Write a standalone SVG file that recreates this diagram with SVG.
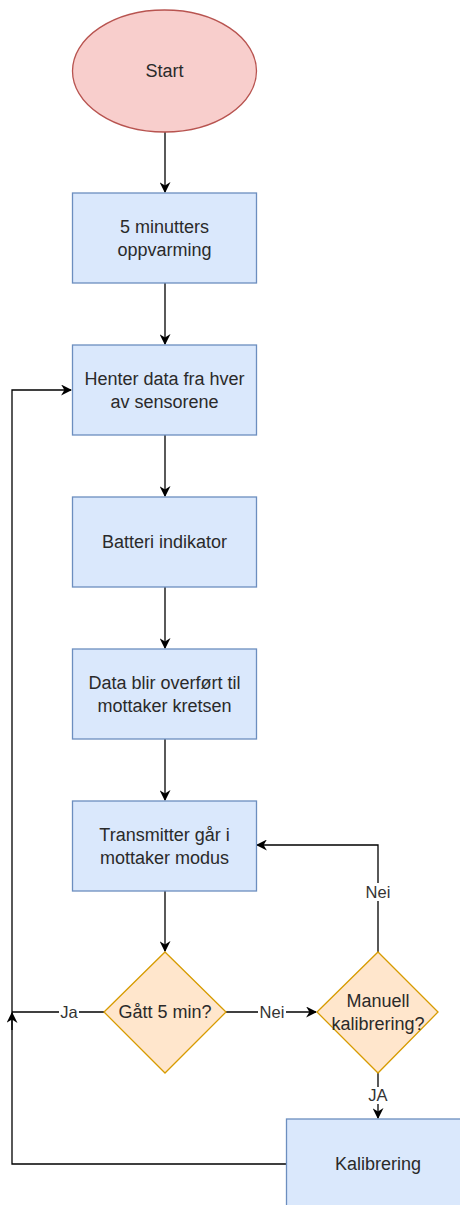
<svg xmlns="http://www.w3.org/2000/svg" width="460" height="1205" viewBox="0 0 460 1205">
<defs>
<style>
.box{fill:#dae8fc;stroke:#6c8ebf;stroke-width:1.3}
.dia{fill:#ffe6cc;stroke:#d79b00;stroke-width:1.3}
.t{font-family:"Liberation Sans",Arial,sans-serif;font-size:18px;fill:#2a2a2a;text-anchor:middle;dominant-baseline:central}
.lbl{font-family:"Liberation Sans",Arial,sans-serif;font-size:16.5px;fill:#333;text-anchor:middle;dominant-baseline:central}
.e{fill:none;stroke:#000;stroke-width:1.3}
</style>
<marker id="ah" viewBox="0 0 10 10" refX="9" refY="5" markerWidth="11" markerHeight="11" markerUnits="userSpaceOnUse" orient="auto">
<path d="M0,0 L10,5 L0,10 L3,5 Z" fill="#000"/>
</marker>
</defs>
<g id="connectors">
<path class="e" d="M165,132 V192" marker-end="url(#ah)"/>
<path class="e" d="M165,283 V344" marker-end="url(#ah)"/>
<path class="e" d="M165,435 V496" marker-end="url(#ah)"/>
<path class="e" d="M165,587 V648" marker-end="url(#ah)"/>
<path class="e" d="M165,739 V800" marker-end="url(#ah)"/>
<path class="e" d="M165,891 V951" marker-end="url(#ah)"/>
<path class="e" d="M226,1012 H316" marker-end="url(#ah)"/>
<rect x="258" y="1003" width="28" height="18" fill="#fff"/>
<text class="lbl" x="272" y="1012">Nei</text>
<path class="e" d="M104,1012 H12" />
<path class="e" d="M12,1030 V1013" marker-end="url(#ah)"/>
<rect x="59" y="1003" width="20" height="18" fill="#fff"/>
<text class="lbl" x="69" y="1012">Ja</text>
<path class="e" d="M378,952 V845 H257" marker-end="url(#ah)"/>
<rect x="364" y="883" width="28" height="18" fill="#fff"/>
<text class="lbl" x="378" y="892">Nei</text>
<path class="e" d="M378,1073 V1118" marker-end="url(#ah)"/>
<rect x="366" y="1087" width="24" height="17" fill="#fff"/>
<text class="lbl" x="378" y="1095">JA</text>
<path class="e" d="M286,1164 H12 V390 H71" marker-end="url(#ah)"/>
</g>
<g id="start">
<ellipse cx="164.5" cy="71" rx="92" ry="61" fill="#f8cecc" stroke="#b85450" stroke-width="1.3"/>
<text class="t" x="164.5" y="71">Start</text>
</g>
<g id="oppvarming">
<rect class="box" x="72.5" y="193" width="184" height="90"/>
<text class="t" x="164.5" y="227">5 minutters</text>
<text class="t" x="164.5" y="249.5">oppvarming</text>
</g>
<g id="henter">
<rect class="box" x="72.5" y="345" width="184" height="90"/>
<text class="t" x="164.5" y="379">Henter data fra hver</text>
<text class="t" x="164.5" y="401.5">av sensorene</text>
</g>
<g id="batteri">
<rect class="box" x="72.5" y="497" width="184" height="90"/>
<text class="t" x="164.5" y="542">Batteri indikator</text>
</g>
<g id="overfort">
<rect class="box" x="72.5" y="649" width="184" height="90"/>
<text class="t" x="164.5" y="683">Data blir overført til</text>
<text class="t" x="164.5" y="705.5">mottaker kretsen</text>
</g>
<g id="transmitter">
<rect class="box" x="72.5" y="801" width="184" height="90"/>
<text class="t" x="164.5" y="835">Transmitter går i</text>
<text class="t" x="164.5" y="857.5">mottaker modus</text>
</g>
<g id="gatt">
<path class="dia" d="M165,952 L226,1012 L165,1073 L104,1012 Z"/>
<text class="t" x="165" y="1012">Gått 5 min?</text>
</g>
<g id="manuell">
<path class="dia" d="M378,952 L438,1012 L378,1073 L317,1012 Z"/>
<text class="t" x="378" y="1001">Manuell</text>
<text class="t" x="378" y="1023.5">kalibrering?</text>
</g>
<g id="kalibrering">
<rect class="box" x="286.5" y="1119" width="184" height="90"/>
<text class="t" x="378" y="1164">Kalibrering</text>
</g>
</svg>
